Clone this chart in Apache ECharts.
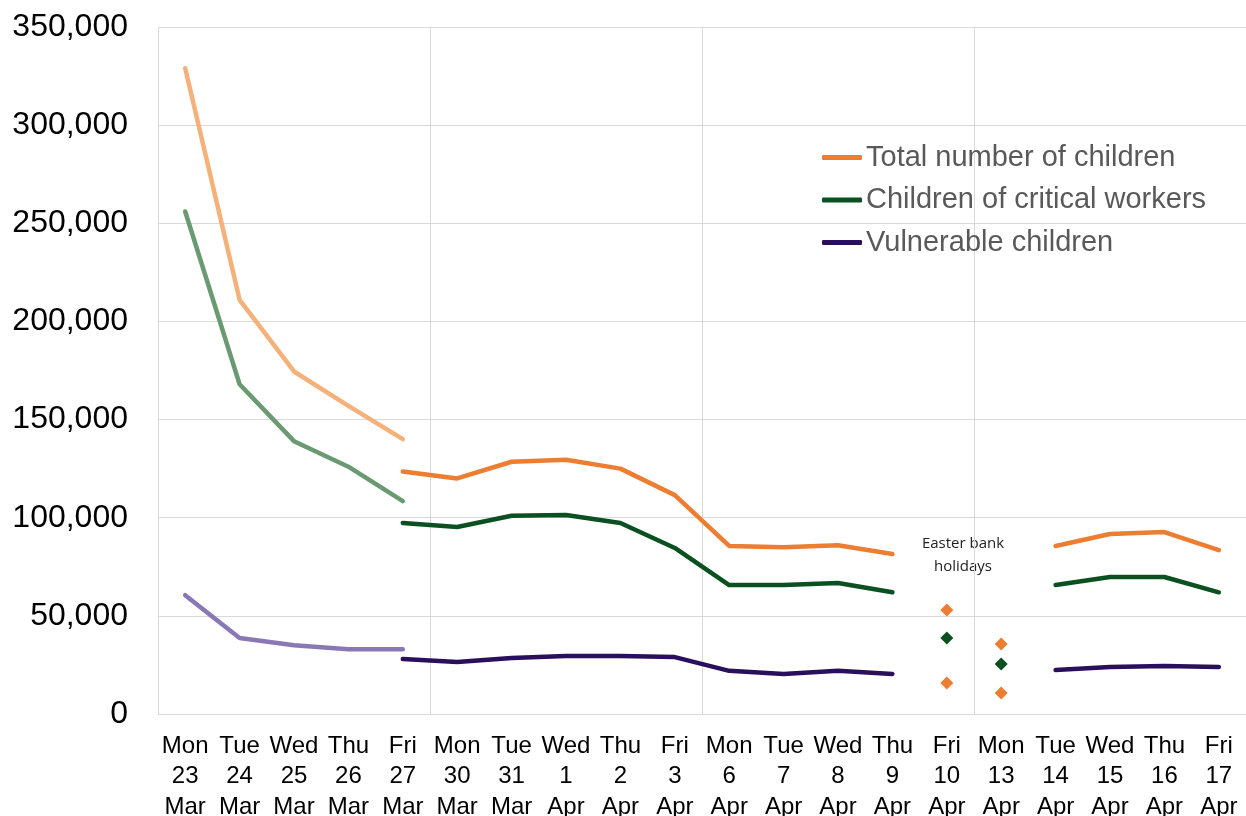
<!DOCTYPE html>
<html>
<head>
<meta charset="utf-8">
<script src="https://cdn.jsdelivr.net/npm/echarts@6/dist/echarts.min.js"></script>
<style>
  html, body { margin: 0; padding: 0; background: #fff; }
</style>
</head>
<body>
<div id="attendanceChart" style="width: 1246px; height: 816px;"></div>
<script>
const days = ['Mon\n23\nMar', 'Tue\n24\nMar', 'Wed\n25\nMar', 'Thu\n26\nMar', 'Fri\n27\nMar',
  'Mon\n30\nMar', 'Tue\n31\nMar', 'Wed\n1\nApr', 'Thu\n2\nApr', 'Fri\n3\nApr',
  'Mon\n6\nApr', 'Tue\n7\nApr', 'Wed\n8\nApr', 'Thu\n9\nApr', 'Fri\n10\nApr',
  'Mon\n13\nApr', 'Tue\n14\nApr', 'Wed\n15\nApr', 'Thu\n16\nApr', 'Fri\n17\nApr']

// first week (lighter lines)
const totalWeek1 = [329000, 211000, 174500, 157000, 140000]
const criticalWeek1 = [256000, 168000, 139000, 126000, 108500]
const vulnerableWeek1 = [60500, 38700, 35000, 33000, 33000]

// from Fri 27 Mar onwards (null = bank holidays)
const total = [123500, 120000, 128500, 129500, 125000, 111500, 85600, 85000, 86000, 81500,
  null, null, 85600, 91700, 92700, 83500]
const critical = [97300, 95300, 101000, 101400, 97300, 84600, 65700, 65700, 66700, 62000,
  null, null, 65700, 69800, 69800, 62000]
const vulnerable = [28000, 26500, 28500, 29500, 29500, 29000, 22000, 20400, 22000, 20400,
  null, null, 22400, 24000, 24500, 24000]

// Easter bank holiday points (Fri 10, Mon 13)
const holidayOrangeHigh = [53000, 35700]
const holidayGreen = [38700, 25500]
const holidayOrangeLow = [15800, 10700]

const yTicks = [0, 50000, 100000, 150000, 200000, 250000, 300000, 350000]

const ORANGE = '#ED7D31'
const GREEN = '#0B5020'
const PURPLE = '#2A0F5C'

function pad(arr, start) {
  const out = new Array(days.length).fill(null)
  arr.forEach((v, i) => { out[start + i] = v })
  return out
}

function lineSeries(name, data, color, z) {
  return {
    name: name,
    type: 'line',
    data: data,
    symbol: 'none',
    connectNulls: false,
    z: z || 2,
    lineStyle: { color: color, width: 4.5, cap: 'round', join: 'round' },
    itemStyle: { color: color }
  }
}

function holidaySeries(name, data, color) {
  return {
    name: name,
    type: 'scatter',
    data: pad(data, 14),
    symbol: 'diamond',
    symbolSize: 13,
    itemStyle: { color: color, opacity: 1 }
  }
}

const chart = echarts.init(document.getElementById('attendanceChart'))
chart.setOption({
  animation: false,
  textStyle: { fontFamily: 'Liberation Sans, Arial, sans-serif' },
  grid: { left: 158, right: 0, top: 27, bottom: 102, containLabel: false, outerBoundsMode: 'none' },
  legend: {
    data: ['Total number of children', 'Children of critical workers', 'Vulnerable children'],
    orient: 'vertical',
    left: 817,
    top: 138,
    itemGap: 13.5,
    itemWidth: 40,
    itemHeight: 5,
    icon: 'roundRect',
    textStyle: { fontSize: 29, color: '#595959', padding: [0, 0, 0, -1] }
  },
  xAxis: {
    type: 'category',
    data: days,
    boundaryGap: true,
    axisLine: { show: true, lineStyle: { color: '#d9d9d9', width: 1 } },
    axisTick: { show: false },
    axisLabel: { fontSize: 24, color: '#000', lineHeight: 30.5, margin: 17, interval: 0 },
    splitLine: {
      show: true,
      interval: function (i) { return i % 5 === 0 },
      lineStyle: { color: '#d9d9d9', width: 1 }
    }
  },
  yAxis: {
    type: 'value',
    min: yTicks[0],
    max: yTicks[yTicks.length - 1],
    interval: 50000,
    axisLine: { show: false },
    axisTick: { show: false },
    axisLabel: {
      fontSize: 32,
      color: '#000',
      margin: 30,
      padding: [4, 0, 0, 0],
      formatter: function (v) { return v.toLocaleString('en-GB') }
    },
    splitLine: { lineStyle: { color: '#d9d9d9', width: 1 } }
  },
  graphic: [{
    type: 'text',
    x: 963,
    y: 532,
    style: {
      text: 'Easter bank\nholidays',
      align: 'center',
      font: '15px "Open Sans", sans-serif',
      lineHeight: 23,
      fill: '#222'
    }
  }],
  series: [
    lineSeries('Total week 1', pad(totalWeek1, 0), '#F4B17A'),
    lineSeries('Critical week 1', pad(criticalWeek1, 0), '#6A9A72'),
    lineSeries('Vulnerable week 1', pad(vulnerableWeek1, 0), '#8A78B5'),
    lineSeries('Total number of children', pad(total, 4), ORANGE, 3),
    lineSeries('Children of critical workers', pad(critical, 4), GREEN, 3),
    lineSeries('Vulnerable children', pad(vulnerable, 4), PURPLE, 3),
    holidaySeries('Holiday total', holidayOrangeHigh, ORANGE),
    holidaySeries('Holiday critical', holidayGreen, GREEN),
    holidaySeries('Holiday low', holidayOrangeLow, ORANGE)
  ]
})
</script>
</body>
</html>
